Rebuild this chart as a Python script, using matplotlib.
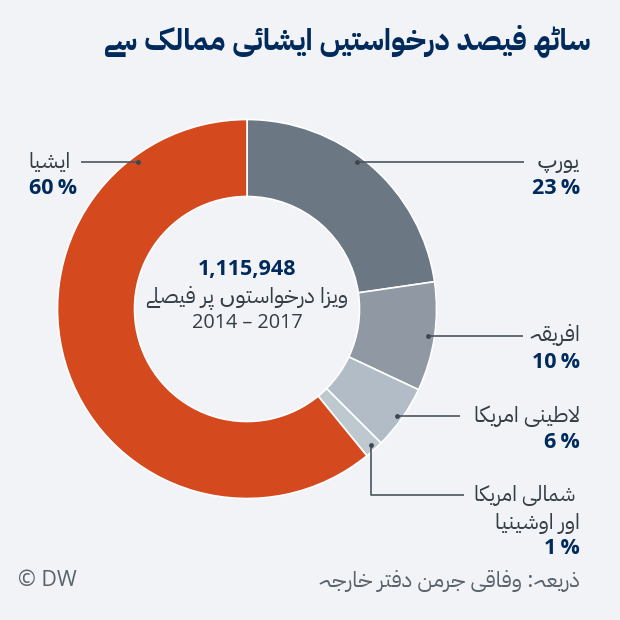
import matplotlib
matplotlib.use("Agg")
import matplotlib.pyplot as plt

# ---- data ----
categories = ["یورپ", "افریقہ", "لاطینی امریکا", "شمالی امریکا\nاور اوشینیا", "ایشیا"]
shares = [22.7, 9.3, 5.5, 1.6, 60.9]
share_labels = ["23\u2009%", "10\u2009%", "6\u2009%", "1\u2009%", "60\u2009%"]
colors = ["#6B7782", "#9098A4", "#B1BCC6", "#BEC8CF", "#D4491D"]
title = "ساٹھ فیصد درخواستیں ایشائی ممالک سے"
total_label = "1,115,948"
center_label = "ویزا درخواستوں پر فیصلے"
years_label = "2014 – 2017"
source_label = "ذریعہ: وفاقی جرمن دفتر خارجہ"
credit_label = "© DW"

BG = "#F1F3F6"
NAVY = "#002A5C"
INK = "#333D46"
LINE = "#4A555E"
URDU = ["IBM Plex Sans Arabic", "DejaVu Sans"]
NUM = "Open Sans"

# contextual shaping for Urdu: isolated, final, initial, medial
FORMS = {
    "ا": (0xFE8D, 0xFE8E), "د": (0xFEA9, 0xFEAA), "ذ": (0xFEAB, 0xFEAC),
    "ر": (0xFEAD, 0xFEAE), "ز": (0xFEAF, 0xFEB0), "و": (0xFEED, 0xFEEE),
    "ے": (0xFBAE, 0xFBAF), "ں": (0xFB9E, 0xFB9F),
    "ب": (0xFE8F, 0xFE90, 0xFE91, 0xFE92), "پ": (0xFB56, 0xFB57, 0xFB58, 0xFB59),
    "ت": (0xFE95, 0xFE96, 0xFE97, 0xFE98), "ٹ": (0xFB66, 0xFB67, 0xFB68, 0xFB69),
    "ج": (0xFE9D, 0xFE9E, 0xFE9F, 0xFEA0), "خ": (0xFEA5, 0xFEA6, 0xFEA7, 0xFEA8),
    "س": (0xFEB1, 0xFEB2, 0xFEB3, 0xFEB4), "ش": (0xFEB5, 0xFEB6, 0xFEB7, 0xFEB8),
    "ص": (0xFEB9, 0xFEBA, 0xFEBB, 0xFEBC), "ط": (0xFEC1, 0xFEC2, 0xFEC3, 0xFEC4),
    "ع": (0xFEC9, 0xFECA, 0xFECB, 0xFECC), "ف": (0xFED1, 0xFED2, 0xFED3, 0xFED4),
    "ق": (0xFED5, 0xFED6, 0xFED7, 0xFED8), "ک": (0xFB8E, 0xFB8F, 0xFB90, 0xFB91),
    "ل": (0xFEDD, 0xFEDE, 0xFEDF, 0xFEE0), "م": (0xFEE1, 0xFEE2, 0xFEE3, 0xFEE4),
    "ن": (0xFEE5, 0xFEE6, 0xFEE7, 0xFEE8), "ھ": (0xFBAA, 0xFBAB, 0xFBAC, 0xFBAD),
    "ہ": (0xFBA6, 0xFBA7, 0xFBA8, 0xFBA9), "ی": (0xFBFC, 0xFBFD, 0xFBFE, 0xFBFF),
    "ئ": (0xFE89, 0xFE8A, 0xFE8B, 0xFE8C),
}


def shape(s):
    s2 = []
    i = 0
    while i < len(s):
        if s[i] == "ل" and i + 1 < len(s) and s[i + 1] == "ا":
            s2.append("لا")
            i += 2
        else:
            s2.append(s[i])
            i += 1
    out = []
    for k, ch in enumerate(s2):
        prev = s2[k - 1] if k else ""
        nxt = s2[k + 1] if k + 1 < len(s2) else ""
        pj = prev in FORMS and len(FORMS[prev]) == 4
        nj = nxt in FORMS or nxt == "لا"
        if ch == "لا":
            out.append(chr(0xFEFC if pj else 0xFEFB))
        elif ch in FORMS:
            f = FORMS[ch]
            if len(f) == 2:
                out.append(chr(f[1] if pj else f[0]))
            elif pj and nj:
                out.append(chr(f[3]))
            elif pj:
                out.append(chr(f[1]))
            elif nj:
                out.append(chr(f[2]))
            else:
                out.append(chr(f[0]))
        else:
            out.append(ch)
    return "".join(reversed(out))


fig = plt.figure(figsize=(6.2, 6.2), dpi=100, facecolor=BG)
ax = fig.add_axes([0, 0, 1, 1])
ax.pie(shares, colors=colors, startangle=90, counterclock=False,
       center=(247, 620 - 309), radius=189.5,
       wedgeprops=dict(width=77, edgecolor="white", linewidth=1.2))
ax.set_xlim(0, 620)
ax.set_ylim(0, 620)
ax.set_aspect("equal")
ax.axis("off")


def T(x, y, s, size, ha="right", color=INK, weight="normal", family=URDU):
    ax.text(x, 620 - y, s, fontsize=size, ha=ha, va="center", color=color,
            fontweight=weight, family=family)


def leader(points):
    xs = [p[0] for p in points]
    ys = [620 - p[1] for p in points]
    ax.plot(xs, ys, color=LINE, lw=1.2, solid_capstyle="butt")
    ax.plot(xs[0], ys[0], "o", color="#3C4750", ms=3.5, mew=0)


T(590, 41, shape(title), 21.5, weight="bold", color=NAVY)

T(247, 269, total_label, 15.5, ha="center", weight="bold", color=NAVY, family=NUM)
T(247, 298, shape(center_label), 16, ha="center")
T(247, 323, years_label, 14.3, ha="center", family=NUM)

# right-hand labels
T(580, 162, shape(categories[0]), 16)
T(580, 188, share_labels[0], 15.5, weight="bold", color=NAVY, family=NUM)
leader([(357, 162), (524, 162)])

T(580, 335, shape(categories[1]), 16)
T(580, 362, share_labels[1], 15.5, weight="bold", color=NAVY, family=NUM)
leader([(428, 336), (523, 336)])

T(580, 416, shape(categories[2]), 16)
T(580, 443, share_labels[2], 15.5, weight="bold", color=NAVY, family=NUM)
leader([(397, 416), (460, 416)])

na1, na2 = categories[3].split("\n")
T(575, 496, shape(na1), 15.3)
T(580, 523, shape(na2), 16)
T(580, 548, share_labels[3], 15.5, weight="bold", color=NAVY, family=NUM)
leader([(371, 445), (371, 495), (464, 495)])

T(71, 162, shape(categories[4]), 16)
T(77, 188, share_labels[4], 15.5, weight="bold", color=NAVY, family=NUM)
leader([(138, 162), (81, 162)])

T(580, 581, shape(source_label), 16, color="#59636C")
T(18, 580, credit_label, 15.5, ha="left", color="#59636C", family=NUM)

fig.savefig("out.png", dpi=100, facecolor=BG)
